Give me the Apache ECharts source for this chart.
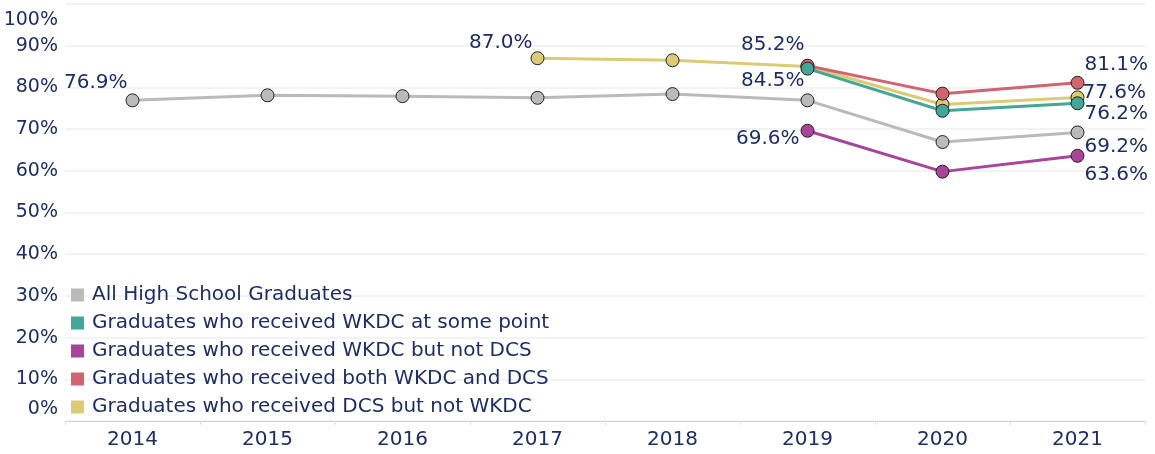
<!DOCTYPE html>
<html><head><meta charset="utf-8">
<script src="https://cdn.jsdelivr.net/npm/echarts@6/dist/echarts.min.js"></script>
<style>html,body{margin:0;padding:0;background:#fff}#c{width:1155px;height:454px}</style>
</head><body><div id="c"></div>
<script>
const years = ['2014','2015','2016','2017','2018','2019','2020','2021'];
const yTicks = [0,10,20,30,40,50,60,70,80,90,100];
const allGrads   = [76.9, 78.1, 77.9, 77.5, 78.4, 76.9, 66.9, 69.2];
const wkdcAny    = [null, null, null, null, null, 84.5, 74.4, 76.2];
const wkdcNotDcs = [null, null, null, null, null, 69.6, 59.8, 63.6];
const both       = [null, null, null, null, null, 85.2, 78.5, 81.1];
const dcsNotWkdc = [null, null, null, 87.0, 86.5, 85.0, 75.9, 77.6];

const names = ['All High School Graduates','Graduates who received WKDC at some point','Graduates who received WKDC but not DCS','Graduates who received both WKDC and DCS','Graduates who received DCS but not WKDC'];
const colors = ['#bababa','#42a797','#a8449a','#d0646f','#dccb75'];
const navy = '#1b2d6b';
const FONT = 'DejaVu Sans';

// label placement per series: index -> {position, offset}
const labelSpec = {
  0: {0:{position:'left',offset:[6,-18]}, 7:{position:'right',offset:[-4,14]}},
  1: {5:{position:'left',offset:[8,12]}, 7:{position:'right',offset:[-4,11]}},
  2: {5:{position:'left',offset:[3,8]}, 7:{position:'right',offset:[-4,19]}},
  3: {5:{position:'left',offset:[8,-21]}, 7:{position:'right',offset:[-4,-18]}},
  4: {3:{position:'left',offset:[6,-15]}, 7:{position:'right',offset:[-6,-5]}}
};
const seriesVals = [allGrads, wkdcAny, wkdcNotDcs, both, dcsNotWkdc];

function mkData(vals, si){
  return vals.map((v,i)=>{
    const s = labelSpec[si][i];
    if (v == null) return null;
    if (!s) return {value:v};
    return {value:v, label:{show:true, position:s.position, offset:s.offset, distance:4,
      formatter: p => p.value.toFixed(1)+'%', color:navy, fontSize:20, fontFamily:FONT}};
  });
}
const drawOrder = [0,2,4,3,1];
const series = drawOrder.map(si => ({
  name: names[si], type:'line', data: mkData(seriesVals[si], si),
  symbol:'circle', symbolSize:13, connectNulls:false,
  lineStyle:{color:colors[si], width:3},
  itemStyle:{color:colors[si], borderColor:'#222', borderWidth:1},
  label:{show:false}, emphasis:{disabled:true}, z: 2+drawOrder.indexOf(si)
}));

const chart = echarts.init(document.getElementById('c'), null, {renderer:'canvas'});
chart.setOption({
  animation:false,
  color: colors,
  grid:{left:65, right:10, top:4, bottom:33, containLabel:false},
  legend:{
    data: names, orient:'vertical', left:66, top:280, icon:'rect', itemWidth:13, itemHeight:13,
    itemGap:8, itemStyle:{borderWidth:0},
    textStyle:{color:navy, fontSize:20, fontFamily:FONT, padding:[0,0,0,3]},
    selectedMode:false
  },
  xAxis:{type:'category', data:years, boundaryGap:true,
    axisLine:{lineStyle:{color:'#cccccc', type:'dotted', width:1}},
    axisTick:{show:true, length:4, lineStyle:{color:'#dddddd'}},
    axisLabel:{color:navy, fontSize:20, fontFamily:FONT, margin:9}
  },
  yAxis:{type:'value', min:0, max:100, interval:10,
    axisLine:{show:false}, axisTick:{show:false},
    splitLine:{lineStyle:{color:'#efefef', width:1.5}},
    axisLabel:{color:navy, fontSize:19, fontFamily:FONT, margin:7,
      formatter: v => v === 100 ? '{t|100%}' : (v === 0 ? '{b|0%}' : (yTicks.includes(v) ? v+'%' : '')),
      rich:{t:{fontSize:19, fontFamily:FONT, color:navy, padding:[7,0,0,0]},
            b:{fontSize:19, fontFamily:FONT, color:navy, padding:[0,0,2,0]}},
      verticalAlignMinLabel:'bottom', verticalAlignMaxLabel:'top'}
  },
  series: series
});
</script></body></html>
